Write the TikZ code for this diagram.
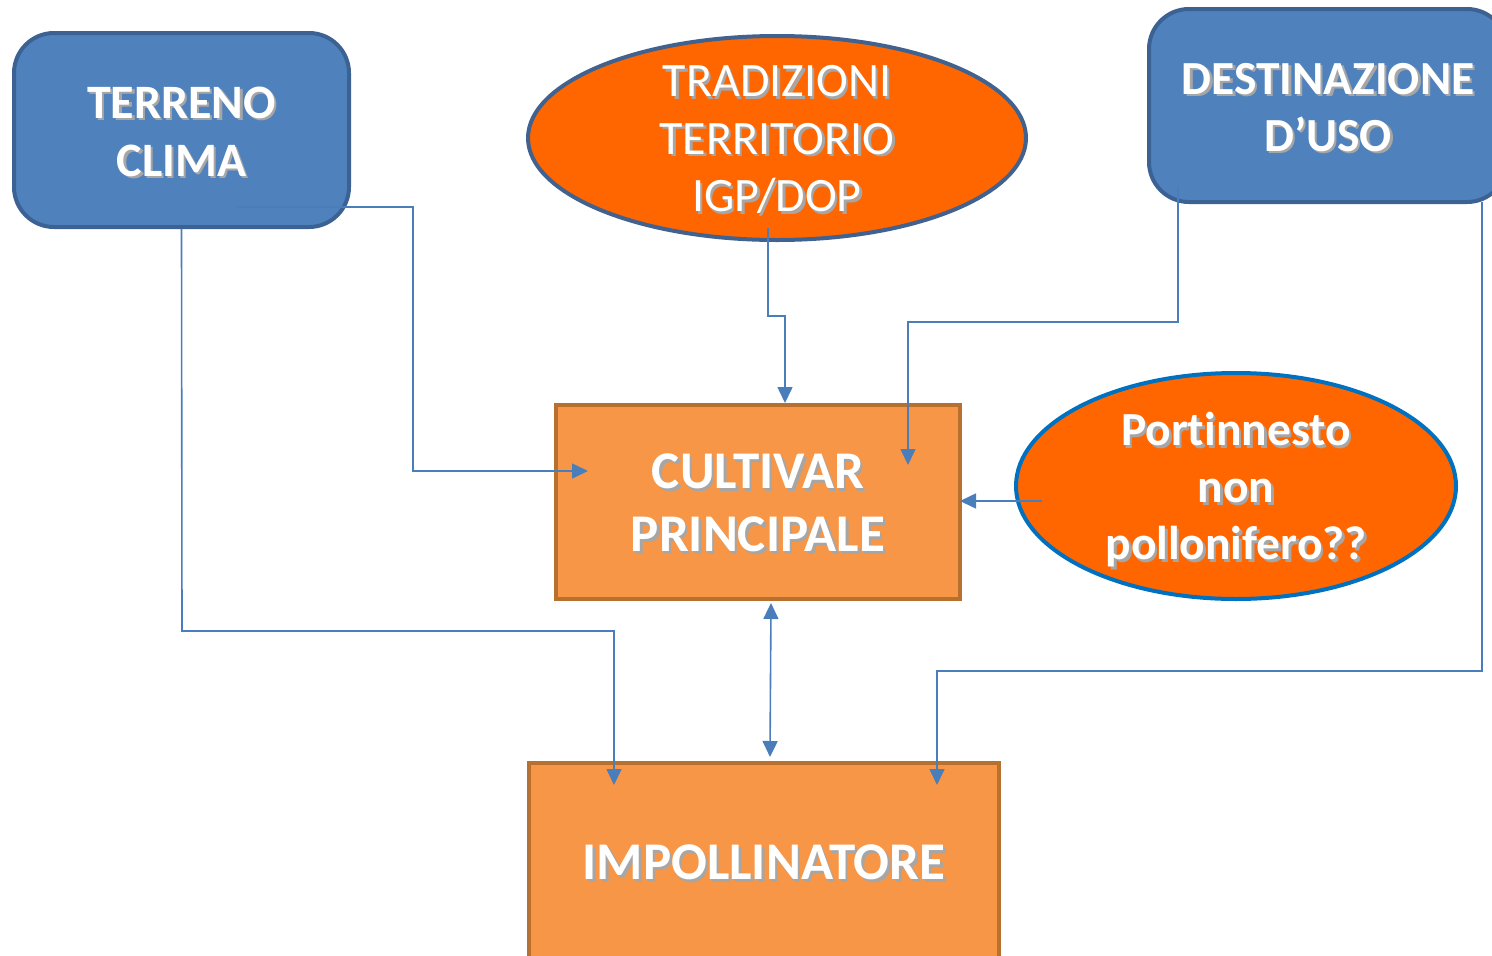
\documentclass[tikz,border=0pt]{standalone}
\usepackage{fontspec}
\setmainfont{Carlito}[Ligatures=NoCommon]
\usetikzlibrary{arrows.meta,shapes.geometric,calc}
\definecolor{boxblue}{HTML}{4F81BD}
\definecolor{boxblueedge}{HTML}{3C6294}
\definecolor{ellorange}{HTML}{FF6600}
\definecolor{ellblueedge}{HTML}{41628F}
\definecolor{portedge}{HTML}{0070C0}
\definecolor{rectorange}{HTML}{F79646}
\definecolor{rectedge}{HTML}{B8702F}
\definecolor{connblue}{HTML}{4A7EBB}
\newcommand\shd[1]{\leavevmode\rlap{\hspace{2.5pt}\raisebox{-2.5pt}{\textcolor{black!35}{#1}}}#1}
\begin{document}
\begin{tikzpicture}[x=1pt,y=-1pt,
  bluebox/.style={draw=boxblueedge,line width=4pt,fill=boxblue,rounded corners=40pt,inner sep=0pt},
  orangebox/.style={draw=rectedge,line width=4pt,fill=rectorange,inner sep=0pt},
  oval/.style={ellipse,fill=ellorange,line width=4pt,inner sep=0pt},
  label text/.style={text=white,align=center,inner sep=0pt},
  conn/.style={draw=connblue,line width=1.6pt},
  arr/.style={conn,-{Triangle[length=16pt,width=15pt]}},
  darr/.style={conn,{Triangle[length=16pt,width=15pt]}-{Triangle[length=16pt,width=15pt]}}]
\useasboundingbox (0,0) rectangle (1492,956);
\clip (0,0) rectangle (1492,956);

% shapes
\node[bluebox,minimum width=335pt,minimum height=194pt] (terreno) at (181.5,130) {};
\node[bluebox,minimum width=358pt,minimum height=193pt] (dest) at (1328,105.5) {};
\node[oval,draw=ellblueedge,minimum width=498pt,minimum height=204pt] (trad) at (777,138) {};
\node[orangebox,minimum width=404pt,minimum height=194pt] (cultivar) at (758,502) {};
\node[oval,draw=portedge,minimum width=440pt,minimum height=226pt] (port) at (1236,486) {};
\node[orangebox,minimum width=470pt,minimum height=198pt] (impoll) at (764,862) {};

% texts
\node[label text,font=\fontsize{48}{58}\selectfont\bfseries] (terrenotxt)
  at ([yshift=-3pt]terreno.center) {\shd{TERRENO}\\\shd{CLIMA}};
\node[label text,font=\fontsize{47.5}{57}\selectfont\bfseries] (desttxt)
  at ([yshift=-3pt]dest.center) {\shd{DESTINAZIONE}\\\shd{D’USO}};
\node[label text,font=\fontsize{48}{57.5}\selectfont] (tradtxt)
  at ([yshift=-3pt]trad.center) {\shd{TRADIZIONI}\\\shd{TERRITORIO}\\\shd{IGP/DOP}};
\node[label text,font=\fontsize{53}{63}\selectfont\bfseries] (cultivartxt)
  at ([yshift=-2.5pt]cultivar.center) {\shd{CULTIVAR}\\\shd{PRINCIPALE}};
\node[label text,font=\fontsize{47.5}{57}\selectfont\bfseries] (porttxt)
  at ([yshift=-5pt]port.center) {\shd{Portinnesto}\\\shd{non}\\\shd{pollonifero??}};
\node[label text,font=\fontsize{53}{60}\selectfont\bfseries] (impolltxt)
  at ([yshift=-2pt]impoll.center) {\shd{IMPOLLINATORE}};

% connectors
\coordinate (tA) at (237,207);
\coordinate (cA) at (588,471);
\coordinate (iA) at (614,785);
\coordinate (trA) at (768,228);
\coordinate (dA) at (1178,186);
\coordinate (cB) at (908,465);
\coordinate (dB) at (1482,202);
\coordinate (iB) at (937,785);
\coordinate (pA) at (1042,501);
\coordinate (cC) at (960,501);
\coordinate (cD) at (771,603);
\coordinate (iC) at (770,757);

\draw[arr] (tA) -- (413,207) -- (413,471) -- (cA);
\draw[arr] (terreno.south) -- (182,631) -- (614,631) -- (iA);
\draw[arr] (trA) -- (768,316) -- (785,316) -- (cultivar.north -| 785,0);
\draw[arr] (dA) -- (1178,322) -- (908,322) -- (cB);
\draw[arr] (dB) -- (1482,671) -- (937,671) -- (iB);
\draw[arr] (pA) -- (cC);
\draw[darr] (cD) -- (iC);
\end{tikzpicture}
\end{document}
